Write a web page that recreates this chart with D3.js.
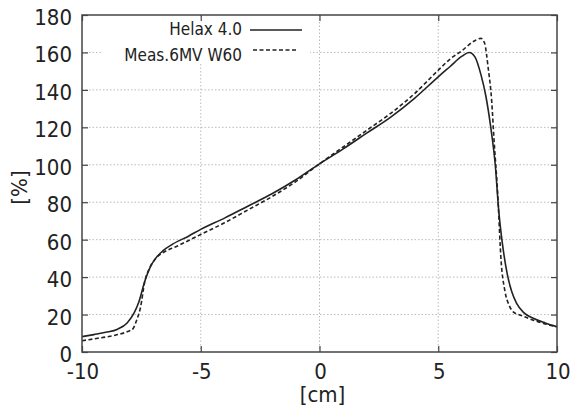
<!DOCTYPE html>
<html lang="en">
<head>
<meta charset="UTF-8">
<title>Helax 4.0 vs Meas.6MV W60</title>
<script src="https://d3js.org/d3.v7.min.js"></script>
<style>
  body { margin: 0; background: #fff; }
  svg text { font-family: "DejaVu Sans Condensed", "DejaVu Sans", sans-serif; font-stretch: condensed; fill: #222; }
  .tick-label { font-size: 22px; }
  .legend-label { font-size: 17px; }
  .grid line { stroke: #bbb; stroke-width: 1; stroke-dasharray: 1.5,2; }
</style>
</head>
<body>
<div id="chart"></div>
<script>
// profile data
const helaxX = [-10, -9.5, -9, -8.5, -8.1, -7.8, -7.6, -7.35, -7.1, -6.9, -6.6, -6.2, -5.5, -5, -4, -3, -2, -1, 0, 1, 2, 3, 4, 5, 5.5, 6, 6.3, 6.55, 6.8, 7.0, 7.2, 7.4, 7.55, 7.7, 7.9, 8.1, 8.3, 8.6, 9, 9.5, 10];
const helaxY = [8.2, 9.3, 10.5, 12.2, 15.5, 21, 27, 38, 46, 50, 54, 57.5, 62, 65.5, 71.5, 78, 84.5, 92, 100.5, 108.5, 117, 125.5, 135.5, 147, 152.5, 158, 160, 157.5, 148, 137, 121, 100, 75, 58, 42, 32, 26, 21, 18, 15.5, 13.5];

const measX = [-10, -9.5, -9, -8.5, -8.1, -7.85, -7.7, -7.55, -7.35, -7.15, -6.9, -6.6, -6, -5, -4, -3, -2, -1, 0, 1, 2, 3, 4, 5, 5.5, 6, 6.5, 6.8, 6.95, 7.1, 7.25, 7.35, 7.5, 7.65, 7.8, 8.0, 8.2, 8.5, 9, 9.5, 10];
const measY = [6, 7, 8, 9.3, 10.8, 12.5, 17, 23, 38, 45, 50, 53, 56.5, 62.8, 69, 76, 83, 91, 100.5, 109.5, 118.5, 127.5, 138, 150.5, 156.5, 161, 166, 167.5, 165, 152, 134, 113, 85, 48, 33, 24.5, 21, 19.5, 17, 15, 13.5];

const seriesNames = ["Helax 4.0", "Meas.6MV W60"];
const xTicks = [-10, -5, 0, 5, 10];
const yTicks = [0, 20, 40, 60, 80, 100, 120, 140, 160, 180];

const W = 573, H = 410;
const margin = {top: 15, right: 16, bottom: 58, left: 82};
const width = W - margin.left - margin.right,
      height = H - margin.top - margin.bottom;

const svg = d3.select("#chart").append("svg")
    .attr("width", W).attr("height", H);
const g = svg.append("g")
    .attr("transform", `translate(${margin.left},${margin.top})`);

const x = d3.scaleLinear().domain([-10, 10]).range([0, width]);
const y = d3.scaleLinear().domain([0, 180]).range([height, 0]);

// dotted grid
const grid = g.append("g").attr("class", "grid");
grid.selectAll(".hg").data(yTicks.slice(1, -1)).join("line")
    .attr("x1", 0).attr("x2", width)
    .attr("y1", d => y(d)).attr("y2", d => y(d));
grid.selectAll(".vg").data(xTicks.slice(1, -1)).join("line")
    .attr("y1", 0).attr("y2", height)
    .attr("x1", d => x(d)).attr("x2", d => x(d));

// key background hides the grid behind it
g.append("rect")
    .attr("x", 20).attr("y", 3).attr("width", 208).attr("height", 46)
    .attr("fill", "#fff");

// curves
const line = d3.line().curve(d3.curveMonotoneX)
    .x(d => x(d[0])).y(d => y(d[1]));
const helax = helaxX.map((v, i) => [v, helaxY[i]]);
const meas = measX.map((v, i) => [v, measY[i]]);

g.append("path").datum(helax)
    .attr("fill", "none").attr("stroke", "#222").attr("stroke-width", 1.6)
    .attr("d", line);
g.append("path").datum(meas)
    .attr("fill", "none").attr("stroke", "#222").attr("stroke-width", 1.6)
    .attr("stroke-dasharray", "4,2.5")
    .attr("d", line);

// frame with inward ticks
const tickStyle = sel => {
  sel.select(".domain").remove();
  sel.selectAll(".tick line").attr("stroke", "#444").attr("stroke-width", 1.2);
  sel.selectAll(".tick text").remove();
};
g.append("g").attr("transform", `translate(0,${height})`)
    .call(d3.axisTop(x).tickValues(xTicks).tickSize(6)).call(tickStyle);
g.append("g")
    .call(d3.axisBottom(x).tickValues(xTicks).tickSize(6)).call(tickStyle);
g.append("g")
    .call(d3.axisRight(y).tickValues(yTicks).tickSize(6)).call(tickStyle);
g.append("g").attr("transform", `translate(${width},0)`)
    .call(d3.axisLeft(y).tickValues(yTicks).tickSize(6)).call(tickStyle);

g.append("rect")
    .attr("width", width).attr("height", height)
    .attr("fill", "none").attr("stroke", "#444").attr("stroke-width", 1.5);

// tick labels
g.selectAll(".ylab").data(yTicks).join("text")
    .attr("class", "tick-label")
    .attr("x", -10).attr("y", d => y(d) + 4)
    .attr("text-anchor", "end").attr("dominant-baseline", "middle")
    .text(d => d);
g.selectAll(".xlab").data(xTicks).join("text")
    .attr("class", "tick-label")
    .attr("x", d => x(d) + 1).attr("y", height + 21)
    .attr("text-anchor", "middle").attr("dominant-baseline", "middle")
    .text(d => d);

// axis titles
g.append("text").attr("class", "tick-label")
    .attr("x", x(0) + 3).attr("y", height + 44)
    .attr("text-anchor", "middle").attr("dominant-baseline", "middle")
    .text("[cm]");
svg.append("text").attr("class", "tick-label")
    .attr("transform", `translate(21,${margin.top + y(90) + 4}) rotate(-90)`)
    .attr("text-anchor", "middle").attr("dominant-baseline", "middle")
    .text("[%]");

// key
const key = g.append("g");
const keyRows = [{dash: null, ty: 15, ly: 15}, {dash: "4,2.5", ty: 41, ly: 35}];
keyRows.forEach((r, i) => {
  key.append("text").attr("class", "legend-label")
      .attr("x", 160).attr("y", r.ty)
      .attr("text-anchor", "end").attr("dominant-baseline", "middle")
      .text(seriesNames[i]);
  key.append("line")
      .attr("x1", i ? 171 : 168).attr("x2", i ? 216 : 220)
      .attr("y1", r.ly).attr("y2", r.ly)
      .attr("stroke", "#222").attr("stroke-width", 1.5)
      .attr("stroke-dasharray", r.dash);
});
</script>
</body>
</html>
